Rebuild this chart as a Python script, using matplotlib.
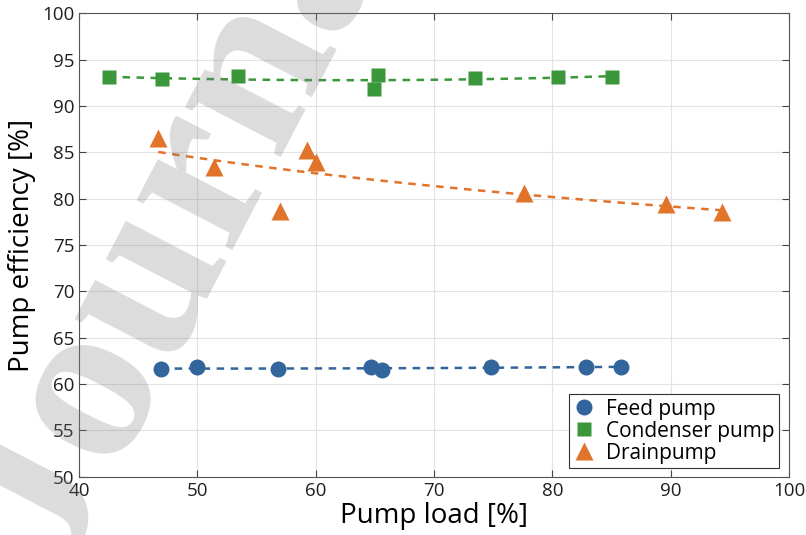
import numpy as np
import matplotlib
matplotlib.use('Agg')
import matplotlib.pyplot as plt

# Values
feed_load = [46.9, 50.0, 56.8, 64.7, 65.6, 74.8, 82.8, 85.8]
feed_eff = [61.6, 61.8, 61.6, 61.8, 61.55, 61.85, 61.8, 61.85]

cond_load = [42.5, 47.0, 53.4, 65.3, 64.9, 73.5, 80.5, 85.0]
cond_eff = [93.1, 92.95, 93.2, 93.4, 91.8, 93.05, 93.15, 93.15]

drain_load = [46.7, 51.4, 57.0, 59.3, 60.0, 77.6, 89.6, 94.3]
drain_eff = [86.6, 83.4, 78.7, 85.3, 84.0, 80.6, 79.4, 78.6]

labels = ['Feed pump', 'Condenser pump', 'Drainpump']
colors = ['#31659c', '#3a973a', '#e1732a']

plt.rcParams['font.family'] = ['Open Sans', 'DejaVu Sans']

fig = plt.figure(figsize=(8.06, 5.35), dpi=100)
ax = fig.add_axes([0.098, 0.109, 0.881, 0.866])


def quad_fit(x, y):
    c = np.polyfit(x, y, 2)
    xs = np.linspace(min(x), max(x), 100)
    return xs, np.polyval(c, xs)


def power_fit(x, y):
    b, lna = np.polyfit(np.log(x), np.log(y), 1)
    xs = np.linspace(min(x), max(x), 100)
    return xs, np.exp(lna) * xs ** b


fits = [quad_fit(feed_load, feed_eff),
        quad_fit(cond_load, cond_eff),
        power_fit(drain_load, drain_eff)]

for (xs, ys), col in zip(fits, colors):
    ax.plot(xs, ys, '--', color=col, lw=1.8, dashes=(3, 2.6), zorder=2)

ax.plot(feed_load, feed_eff, 'o', ls='none', color=colors[0], ms=11.5,
        mec='none', label=labels[0], zorder=3)
ax.plot(cond_load, cond_eff, 's', ls='none', color=colors[1], ms=9.5,
        mec='none', label=labels[1], zorder=3)
ax.plot(drain_load, drain_eff, '^', ls='none', color=colors[2], ms=13,
        mec='none', label=labels[2], zorder=3)

ax.set_xlim(40, 100)
ax.set_ylim(50, 100)
ax.set_xticks(np.arange(40, 101, 10))
ax.set_yticks(np.arange(50, 101, 5))
ax.grid(True, color='#e3e3e3', lw=0.8)
ax.set_axisbelow(True)
ax.tick_params(direction='in', top=True, right=True, length=5, width=0.8,
               color='#444444', labelsize=13.5, labelcolor='#1f1f1f')
for s in ax.spines.values():
    s.set_color('#555555')
    s.set_linewidth(0.8)

ax.set_xlabel('Pump load [%]', fontsize=20, labelpad=2)
ax.set_ylabel('Pump efficiency [%]', fontsize=20, labelpad=4)

leg = ax.legend(loc='lower right', bbox_to_anchor=(0.986, 0.019),
                borderaxespad=0, fontsize=15, fancybox=False, framealpha=1,
                edgecolor='#333333', handlelength=1.0, handletextpad=0.6,
                borderpad=0.2, labelspacing=0.05)
leg.get_frame().set_linewidth(0.8)

# watermark on top of the plot
fig.text(0.075, -0.085, 'Journal Pre-proof', fontsize=170, rotation=62.5,
         rotation_mode='anchor', ha='left', va='baseline',
         family=['Liberation Serif', 'DejaVu Serif'], weight='bold',
         color='#808080', alpha=0.28, zorder=10)

plt.savefig('out.png', dpi=100)
